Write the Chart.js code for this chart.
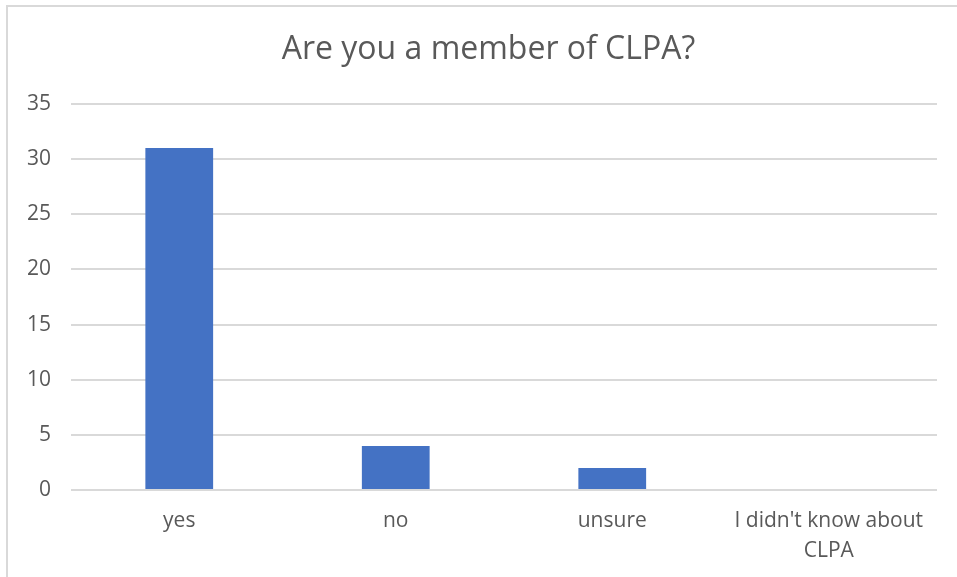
<!DOCTYPE html>
<html>
<head>
<meta charset="utf-8">
<script src="https://cdn.jsdelivr.net/npm/chart.js@4/dist/chart.umd.min.js"></script>
<style>
  html, body { margin: 0; padding: 0; background: #fff; overflow: hidden; }
  #wrap { position: relative; width: 957px; height: 577px; }
  #frame { position: absolute; left: 6px; top: 5px; width: 960px; height: 580px; border-left: 2px solid #d9d9d9; border-top: 2px solid #d9d9d9; box-sizing: border-box; pointer-events: none; }
  canvas { position: absolute; left: 0; top: 0; }
</style>
</head>
<body>
<div id="wrap">
  <canvas id="c" width="957" height="577"></canvas>
  <div id="frame"></div>
</div>
<script>
const categories = ["yes", "no", "unsure", ["I didn't know about", "CLPA"]];
const values = [31, 4, 2, 0];
const yTicks = [0, 5, 10, 15, 20, 25, 30, 35];
const chartTitle = "Are you a member of CLPA?";

const textColor = "#595959";
const fontFamily = "'Open Sans', 'Liberation Sans', sans-serif";

new Chart(document.getElementById("c"), {
  type: "bar",
  data: {
    labels: categories,
    datasets: [{
      data: values,
      backgroundColor: "#4472c4",
      borderWidth: 0,
      barPercentage: 0.313,
      categoryPercentage: 1.0
    }]
  },
  options: {
    responsive: false,
    animation: false,
    layout: { padding: { left: 20, right: 0, top: 0, bottom: 0 } },
    plugins: {
      legend: { display: false },
      tooltip: { enabled: false },
      title: {
        display: true,
        text: chartTitle,
        color: textColor,
        font: { family: fontFamily, size: 32, weight: "normal", lineHeight: 1.2 },
        padding: { top: 31, bottom: 34.6 }
      }
    },
    scales: {
      x: {
        grid: { display: false, drawTicks: false },
        border: { display: false },
        ticks: {
          color: textColor,
          font: { family: fontFamily, size: 21, lineHeight: 1.43 },
          padding: 16,
          maxRotation: 0,
          autoSkip: false
        },
        afterFit: s => { s.height = 87; }
      },
      y: {
        min: 0,
        max: 35,
        afterBuildTicks: s => { s.ticks = yTicks.map(v => ({ value: v })); },
        grid: { color: "#d9d9d9", lineWidth: 2, drawTicks: false },
        border: { display: false },
        ticks: {
          color: textColor,
          font: { family: fontFamily, size: 21 },
          padding: 20
        },
        afterFit: s => { s.width = 51; }
      },
      yRightSpacer: {
        position: "right",
        display: true,
        min: 0,
        max: 35,
        grid: { display: false, drawTicks: false },
        border: { display: false },
        ticks: { display: false },
        afterFit: s => { s.width = 20; }
      }
    }
  }
});
</script>
</body>
</html>
